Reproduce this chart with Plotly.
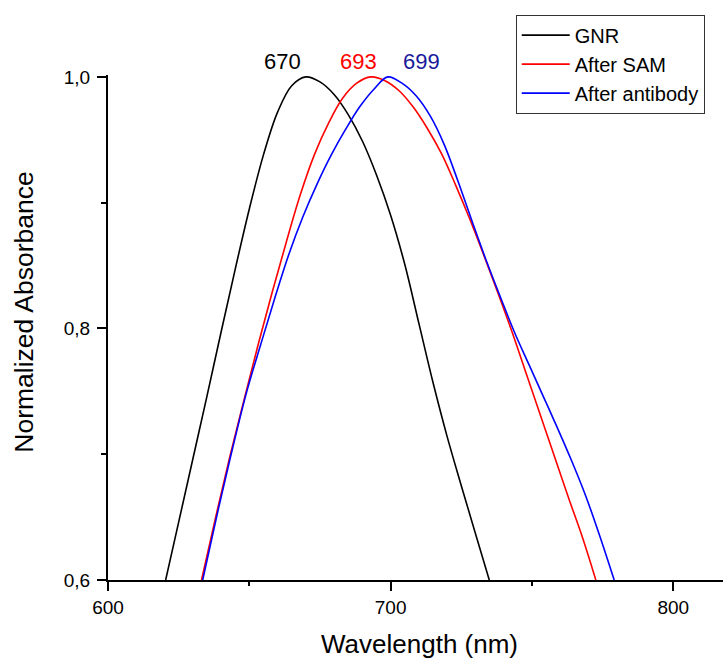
import plotly.graph_objects as go

# Data (normalized absorbance vs wavelength in nm)
gnr_wl = [620.4, 625, 630, 635, 640, 645, 650, 655, 660, 665, 670,
          675, 680, 685, 690, 695, 700, 705, 710, 715, 720, 725, 730, 734.9]
gnr_abs = [0.600, 0.646, 0.696, 0.746, 0.797, 0.847, 0.895, 0.938, 0.972, 0.993, 1.000,
           0.996, 0.986, 0.970, 0.949, 0.922, 0.890, 0.851, 0.804, 0.757, 0.714, 0.675, 0.637, 0.600]

sam_wl = [633.1, 638, 643, 648, 653, 658, 663, 668, 673, 678, 683, 688, 693,
          698, 703, 708, 713, 718, 723, 728, 733, 738, 743, 748, 753, 758, 763, 768, 772.6]
sam_abs = [0.600, 0.649, 0.697, 0.742, 0.786, 0.828, 0.868, 0.906, 0.938, 0.963, 0.983, 0.995, 1.000,
           0.997, 0.989, 0.976, 0.959, 0.939, 0.914, 0.887, 0.858, 0.828, 0.797, 0.764, 0.731,
           0.698, 0.665, 0.633, 0.600]

ab_wl = [633.5, 639, 644, 649, 654, 659, 664, 669, 674, 679, 684, 689, 694, 699,
         704, 709, 714, 719, 724, 729, 734, 739, 744, 749, 754, 759, 764, 769, 774, 779.1]
ab_abs = [0.600, 0.656, 0.704, 0.749, 0.787, 0.824, 0.859, 0.889, 0.915, 0.938, 0.958, 0.976, 0.990, 1.000,
          0.995, 0.985, 0.969, 0.946, 0.916, 0.884, 0.853, 0.824, 0.796, 0.771, 0.746, 0.721,
          0.695, 0.667, 0.635, 0.600]

series_names = ["GNR", "After SAM", "After antibody"]
series_colors = ["#000000", "#ff0000", "#0000ff"]
peak_labels = ["670", "693", "699"]
peak_label_x = [661.9, 688.6, 710.9]
peak_label_colors = ["#000000", "#ff0000", "#1a1a9c"]

x_ticks = [600, 700, 800]
y_ticks = [0.6, 0.8, 1.0]

FONT = "Arial, 'Liberation Sans', sans-serif"

fig = go.Figure()
for wl, ab, name, col in zip([gnr_wl, sam_wl, ab_wl], [gnr_abs, sam_abs, ab_abs],
                             series_names, series_colors):
    fig.add_trace(go.Scatter(x=wl, y=ab, mode="lines", name=name,
                             line=dict(color=col, width=1.6, shape="spline", smoothing=1.0)))

annotations = []
for t, xv, c in zip(peak_labels, peak_label_x, peak_label_colors):
    annotations.append(dict(text=t, x=xv, y=1.0277, xref="x", yref="paper", showarrow=False,
                            xanchor="center", yanchor="middle",
                            font=dict(family=FONT, size=22, color=c)))
annotations.append(dict(text="Wavelength (nm)", x=0.507, y=-0.1277, xref="paper", yref="paper",
                        showarrow=False, xanchor="center", yanchor="middle",
                        font=dict(family=FONT, size=26, color="#000")))
annotations.append(dict(text="Normalized Absorbance", x=-0.138, y=0.5296, xref="paper", yref="paper",
                        showarrow=False, xanchor="center", yanchor="middle", textangle=-90,
                        font=dict(family=FONT, size=26.5, color="#000")))

fig.update_layout(
    width=723, height=660,
    margin=dict(l=108, r=0, t=75, b=80),
    paper_bgcolor="white", plot_bgcolor="white",
    separators=",.",
    showlegend=True,
    legend=dict(x=0.663, y=1.1196, xanchor="left", yanchor="top",
                bordercolor="#333333", borderwidth=1, bgcolor="white",
                font=dict(family=FONT, size=20, color="#000"),
                itemwidth=48, tracegroupgap=0),
    annotations=annotations,
    xaxis=dict(range=[600, 817.6], showgrid=False, zeroline=False,
               showline=True, linecolor="#000", linewidth=2,
               ticks="outside", ticklen=9, tickwidth=1.5, tickcolor="#000",
               tickvals=x_ticks, ticktext=[str(v) for v in x_ticks],
               tickfont=dict(family=FONT, size=19, color="#000"),
               minor=dict(ticks="outside", ticklen=4, tickwidth=1.5, tickcolor="#000", dtick=50, tick0=600)),
    yaxis=dict(range=[0.6, 1.0015], showgrid=False, zeroline=False,
               showline=True, linecolor="#000", linewidth=2,
               ticks="outside", ticklen=9, tickwidth=1.5, tickcolor="#000",
               tickvals=y_ticks, tickformat=".1f", ticklabelstandoff=3,
               tickfont=dict(family=FONT, size=19, color="#000"),
               minor=dict(ticks="outside", ticklen=5, tickwidth=1.5, tickcolor="#000", dtick=0.1, tick0=0.6)),
)

fig.write_html("out.html")
